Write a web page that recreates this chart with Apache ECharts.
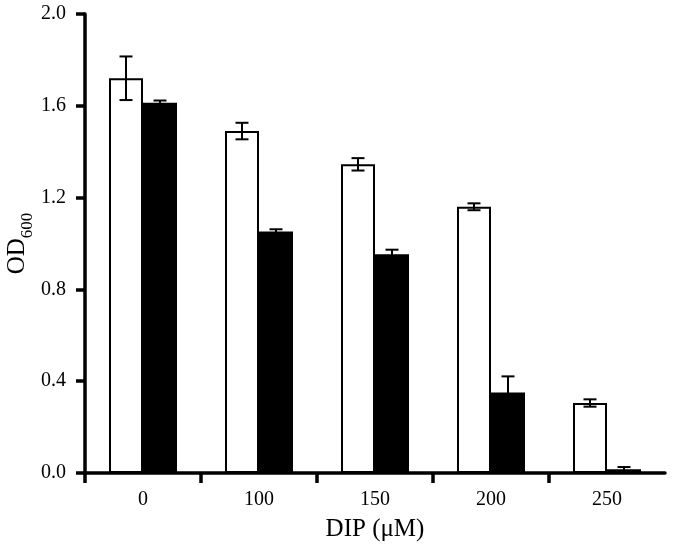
<!DOCTYPE html>
<html>
<head>
<meta charset="utf-8">
<script src="https://cdn.jsdelivr.net/npm/echarts@6/dist/echarts.min.js"></script>
<style>html,body{margin:0;padding:0;background:#fff}#c{width:673px;height:547px}</style>
</head>
<body>
<div id="c"></div>
<script>
var categories = ['0', '100', '150', '200', '250'];
var whiteValues = [1.72, 1.49, 1.345, 1.16, 0.305];
var whiteErrors = [0.095, 0.036, 0.027, 0.015, 0.016];
var blackValues = [1.613, 1.052, 0.953, 0.351, 0.016];
var blackErrors = [0.01, 0.01, 0.02, 0.07, 0.01];
var yTicks = { min: 0, max: 2.0, interval: 0.4 };

var FONT = 'Liberation Serif';
var BAR_W = 34;
var AXIS_W = 3.5;

function errorSeries(values, errors, side) {
  return {
    type: 'custom',
    xAxisIndex: 0, yAxisIndex: 0,
    z: 5,
    data: values.map(function (v, i) { return [i, v, errors[i]]; }),
    renderItem: function (params, api) {
      var i = api.value(0), v = api.value(1), e = api.value(2);
      var top = api.coord([i, v + e]);
      var bot = api.coord([i, v - e]);
      var x = top[0] + side * BAR_W / 2;
      var cap = 6.5;
      var st = { stroke: '#000', lineWidth: 2 };
      return {
        type: 'group',
        children: [
          { type: 'line', shape: { x1: x, y1: top[1], x2: x, y2: bot[1] }, style: st },
          { type: 'line', shape: { x1: x - cap, y1: top[1], x2: x + cap, y2: top[1] }, style: st },
          { type: 'line', shape: { x1: x - cap, y1: bot[1], x2: x + cap, y2: bot[1] }, style: st }
        ]
      };
    }
  };
}

var chart = echarts.init(document.getElementById('c'), null, { renderer: 'canvas' });
chart.setOption({
  animation: false,
  backgroundColor: '#fff',
  textStyle: { fontFamily: FONT, color: '#000' },
  grid: [
    { left: 85, right: 8, top: 14, bottom: 74, containLabel: false, outerBoundsMode: 'none' },
    { left: 85, width: 464, top: 14, bottom: 74, containLabel: false, outerBoundsMode: 'none' }
  ],
  xAxis: [
    {
      type: 'category', data: categories, gridIndex: 0,
      axisLine: { lineStyle: { color: '#000', width: AXIS_W } },
      axisTick: { show: false },
      axisLabel: { color: '#000', fontFamily: FONT, fontSize: 20, margin: 17 },
      name: 'DIP (\u03bcM)', nameLocation: 'middle', nameGap: 44, nameMoveOverlap: false,
      nameTextStyle: { color: '#000', fontFamily: FONT, fontSize: 25 }
    },
    {
      type: 'value', gridIndex: 1, min: 0, max: 4, interval: 1,
      axisLine: { show: false },
      axisTick: { show: true, length: 10, lineStyle: { color: '#000', width: AXIS_W } },
      axisLabel: { show: false },
      splitLine: { show: false }
    }
  ],
  yAxis: [
    {
      type: 'value', gridIndex: 0, min: yTicks.min, max: yTicks.max, interval: yTicks.interval,
      axisLine: { show: true, lineStyle: { color: '#000', width: AXIS_W } },
      axisTick: { show: true, length: 9, lineStyle: { color: '#000', width: AXIS_W } },
      splitLine: { show: false },
      axisLabel: { color: '#000', fontFamily: FONT, fontSize: 20, margin: 19,
        formatter: function (v) { return v.toFixed(1); } },
      name: '{a|OD}{b|600}', nameLocation: 'middle', nameGap: 55, nameRotate: 90,
      nameMoveOverlap: false,
      nameTextStyle: {
        color: '#000', fontFamily: FONT,
        rich: {
          a: { fontFamily: FONT, fontSize: 25, color: '#000' },
          b: { fontFamily: FONT, fontSize: 17, color: '#000', verticalAlign: 'bottom', padding: [0, 0, -6, 0] }
        }
      }
    },
    { type: 'value', gridIndex: 1, min: 0, max: 1, show: false }
  ],
  series: [
    {
      type: 'bar', data: whiteValues, barWidth: BAR_W, barGap: '0%',
      itemStyle: { color: '#fff', borderColor: '#000', borderWidth: 2 }
    },
    {
      type: 'bar', data: blackValues, barWidth: BAR_W, barGap: '0%',
      itemStyle: { color: '#000', borderColor: '#000', borderWidth: 0 }
    },
    errorSeries(whiteValues, whiteErrors, -1),
    errorSeries(blackValues, blackErrors, 1)
  ]
});
</script>
</body>
</html>
